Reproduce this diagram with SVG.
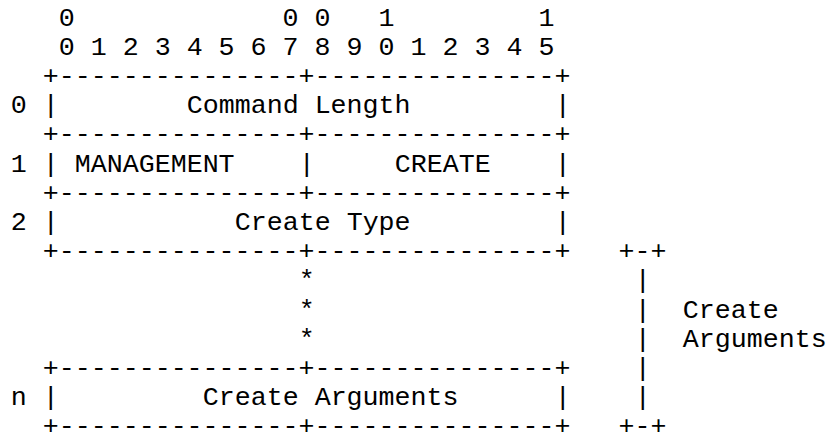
<svg xmlns="http://www.w3.org/2000/svg" width="832" height="436" viewBox="0 0 832 436">
<style>
  text { font-family: "Liberation Mono", "Courier New", monospace; font-size: 26.667px; fill: #000; white-space: pre; }
</style>
<rect width="832" height="436" fill="#fff"/>
<g id="bit-ruler">
  <text x="58.67" y="25.6" xml:space="preserve">0             0 0   1         1</text>
  <text x="58.67" y="54.8" xml:space="preserve">0 1 2 3 4 5 6 7 8 9 0 1 2 3 4 5</text>
</g>
<g id="connectors">
  <text x="42.67" y="84" xml:space="preserve">+---------------+---------------+</text>
  <text x="42.67" y="142.4" xml:space="preserve">+---------------+---------------+</text>
  <text x="42.67" y="200.7" xml:space="preserve">+---------------+---------------+</text>
  <text x="42.67" y="259.1" xml:space="preserve">+---------------+---------------+   +-+</text>
  <text x="42.67" y="375.9" xml:space="preserve">+---------------+---------------+</text>
  <text x="42.67" y="434.3" xml:space="preserve">+---------------+---------------+   +-+</text>
  <text x="298.67" y="288.3">*</text>
  <text x="298.67" y="317.5">*</text>
  <text x="298.67" y="346.7">*</text>
  <text x="634.67" y="288.3">|</text>
  <text x="634.67" y="317.5">|</text>
  <text x="634.67" y="346.7">|</text>
  <text x="634.67" y="375.9">|</text>
  <text x="634.67" y="405.1">|</text>
</g>
<g id="row-0">
  <text x="10.67" y="113.2">0</text>
  <text x="42.67" y="113.2">|</text>
  <text x="186.67" y="113.2">Command Length</text>
  <text x="554.67" y="113.2">|</text>
</g>
<g id="row-1">
  <text x="10.67" y="171.6">1</text>
  <text x="42.67" y="171.6">|</text>
  <text x="74.67" y="171.6">MANAGEMENT</text>
  <text x="298.67" y="171.6">|</text>
  <text x="394.67" y="171.6">CREATE</text>
  <text x="554.67" y="171.6">|</text>
</g>
<g id="row-2">
  <text x="10.67" y="229.9">2</text>
  <text x="42.67" y="229.9">|</text>
  <text x="234.67" y="229.9">Create Type</text>
  <text x="554.67" y="229.9">|</text>
</g>
<g id="row-n">
  <text x="10.67" y="405.1">n</text>
  <text x="42.67" y="405.1">|</text>
  <text x="202.67" y="405.1">Create Arguments</text>
  <text x="554.67" y="405.1">|</text>
</g>
<g id="create-arguments-label">
  <text x="682.67" y="317.5">Create</text>
  <text x="682.67" y="346.7">Arguments</text>
</g>
</svg>
